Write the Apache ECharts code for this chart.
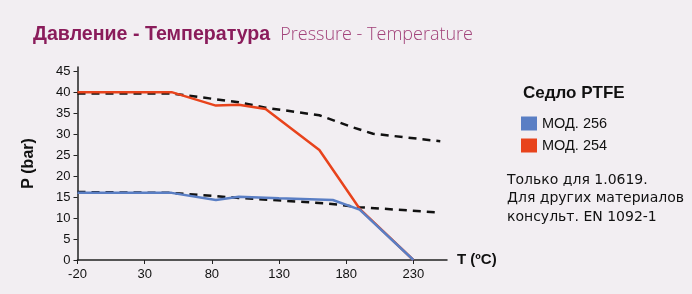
<!DOCTYPE html>
<html>
<head>
<meta charset="utf-8">
<script src="https://cdn.jsdelivr.net/npm/echarts@6/dist/echarts.min.js"></script>
<style>
  html, body { margin: 0; padding: 0; background: #f2eef2; }
  #chart { width: 692px; height: 294px; }
</style>
</head>
<body>
<div id="chart"></div>
<script>
// данные (T, P)
var mod256 = [[-20, 16], [50, 16], [83, 14.3], [100, 15.1], [130, 14.7], [170, 14.3], [190, 12], [230, 0]];
var mod254 = [[-20, 40], [50, 40], [83, 36.8], [100, 37], [120, 36], [160, 26.2], [190, 12.2], [230, 0]];
var pn40 = [[-20, 39.7], [50, 39.7], [100, 37.6], [120, 36.3], [160, 34.5], [185, 31.6], [200, 30.1], [250, 28.3]];
var pn16 = [[-20, 16.2], [50, 16], [100, 14.8], [165, 13.5], [190, 12.6], [250, 11.3]];
var xTicks = [-20, 30, 80, 130, 180, 230];
var yTicks = [0, 5, 10, 15, 20, 25, 30, 35, 40, 45];
var legendNames = ['МОД. 256', 'МОД. 254'];
var notes = ['Только для 1.0619.', 'Для других материалов', 'консульт. EN 1092-1'];

var font = '"Liberation Sans", Arial, sans-serif';

var myChart = echarts.init(document.getElementById('chart'));
myChart.setOption({
    backgroundColor: '#f2eef2',
    animation: false,
    title: {
        left: 28,
        top: 20,
        text: '{a|Давление - Температура}  {b|Pressure - Temperature}',
        textStyle: {
            rich: {
                a: { fontFamily: font, fontSize: 19.6, fontWeight: 'bold', color: '#8a1c5b' },
                b: { fontFamily: '"Open Sans", sans-serif', fontSize: 18, fontWeight: 300, color: '#a2427a' }
            }
        }
    },
    legend: {
        orient: 'vertical',
        left: 516,
        top: 111,
        itemWidth: 16,
        itemHeight: 14,
        itemGap: 7,
        icon: 'rect',
        data: legendNames,
        textStyle: { fontFamily: font, fontSize: 14.5, color: '#111' }
    },
    graphic: [
        {
            type: 'text', left: 523, top: 85,
            style: { text: 'Седло PTFE', font: 'bold 17px ' + font, fill: '#111' }
        },
        {
            type: 'text', left: 507, top: 171,
            style: { text: notes.join('\n'), font: '14px "DejaVu Sans", sans-serif', fill: '#111', lineHeight: 18.5 }
        }
    ],
    grid: { left: 77.5, right: 245, top: 67, bottom: 34 },
    xAxis: {
        type: 'value',
        min: -20,
        max: 255,
        name: 'T (ºC)',
        nameLocation: 'end',
        nameGap: 10,
        nameTextStyle: { fontFamily: font, fontSize: 15, fontWeight: 'bold', color: '#111' },
        splitLine: { show: false },
        axisLine: { onZero: false, lineStyle: { color: '#222', width: 1.5 } },
        axisTick: { show: true, length: 4, customValues: xTicks, lineStyle: { color: '#222' } },
        axisLabel: { customValues: xTicks, margin: 8, fontFamily: font, fontSize: 13, color: '#111' }
    },
    yAxis: {
        type: 'value',
        min: 0,
        max: 46,
        name: 'P (bar)',
        nameLocation: 'middle',
        nameGap: 41,
        nameTextStyle: { fontFamily: font, fontSize: 16, fontWeight: 'bold', color: '#111' },
        splitLine: { show: false },
        axisLine: { show: true, onZero: false, lineStyle: { color: '#222', width: 1.5 } },
        axisTick: { show: true, length: 4, customValues: yTicks, lineStyle: { color: '#222' } },
        axisLabel: { customValues: yTicks, margin: 7, fontFamily: font, fontSize: 13, color: '#111' }
    },
    series: [
        {
            name: 'PN40', type: 'line', data: pn40, symbol: 'none', z: 1,
            lineStyle: { color: '#111', width: 2.5, type: [8, 6] }
        },
        {
            name: 'PN16', type: 'line', data: pn16, symbol: 'none', z: 1,
            lineStyle: { color: '#111', width: 2.5, type: [8, 6] }
        },
        {
            name: 'МОД. 254', type: 'line', data: mod254, symbol: 'none', z: 2,
            itemStyle: { color: '#e8431c' },
            lineStyle: { color: '#e8431c', width: 2.5 }
        },
        {
            name: 'МОД. 256', type: 'line', data: mod256, symbol: 'none', z: 3,
            itemStyle: { color: '#5a7ec4' },
            lineStyle: { color: '#5a7ec4', width: 2.5 }
        }
    ]
});
</script>
</body>
</html>
